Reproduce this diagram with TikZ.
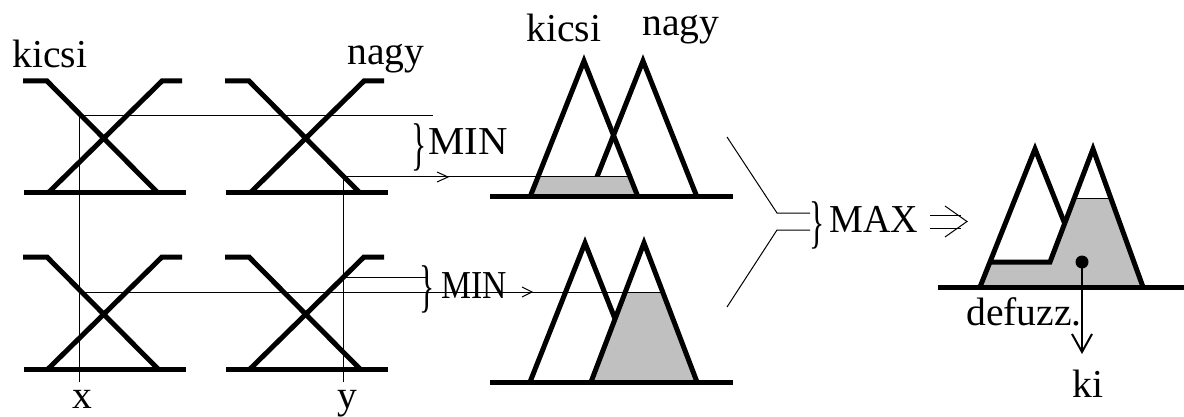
\documentclass[tikz,border=0pt]{standalone}
\usepackage{fontspec}
\setmainfont{Liberation Serif}
\usetikzlibrary{arrows.meta}
\begin{document}
\begin{tikzpicture}[x=0.5pt,y=-0.5pt,
  heavy/.style={line width=2.5pt,line join=miter},
  hair/.style={line width=0.5pt},
  shade/.style={fill={rgb,255:red,192;green,192;blue,192}},
  lbl/.style={inner sep=0pt,font=\fontsize{19.8}{22}\selectfont},
  brc/.style={inner sep=0pt,anchor=center,font=\fontsize{19.8}{22}\selectfont},
  xblock/.pic={
    \draw[heavy] (0,0) -- (24,0) -- (135,112);
    \draw[heavy] (25,112) -- (139,0) -- (159,0);
    \draw[heavy] (1,112) -- (163,112);
  }]
\useasboundingbox (0,0) rectangle (1184,417);

% membership X blocks
\pic at (23,81) {xblock};
\pic at (225,81) {xblock};
\pic at (23,257) {xblock};
\pic at (225,257) {xblock};

% input guides
\coordinate (xtop) at (79,116);
\coordinate (xbot) at (79,382);
\coordinate (ytop) at (343,177);
\coordinate (ybot) at (343,382);
\draw[hair] (xtop) -- (xbot);
\draw[hair] (ytop) -- (ybot);
\coordinate (m1end) at (433,116);
\draw[hair] (xtop) -- (m1end);
\coordinate (y2) at (343,277);
\coordinate (y2end) at (427,277);
\draw[hair] (y2) -- (y2end);

% middle top rule output
\draw[heavy] (589,197) -- (643,61) -- (697,197);
\fill[shade] (538,177) -- (630,177) -- (638,197) -- (530,197) -- cycle;
\draw[heavy] (530,197) -- (584,61) -- (638,197);
\draw[heavy] (490,197) -- (733,197);
\coordinate (c1) at (630,177);
\draw[hair] (ytop) -- (c1);
\draw[hair] (437,172) -- (448,177) -- (437,182);

% middle bottom rule output
\draw[heavy] (530,382) -- (585,243) -- (640,382);
\fill[shade] (625,292) -- (663,292) -- (697,382) -- (591,382) -- cycle;
\draw[heavy] (591,382) -- (644,243) -- (697,382);
\draw[heavy] (490,382) -- (733,382);
\coordinate (xm) at (79,292);
\coordinate (c2) at (663,292);
\draw[hair] (xm) -- (c2);
\draw[hair] (522,287) -- (532,292) -- (522,297);

% MAX combiner
\draw[hair] (727,137) -- (777,213) -- (810,213);
\draw[hair] (727,307) -- (777,230) -- (810,230);
\draw[hair] (930,215) -- (961,215);
\draw[hair] (930,228) -- (961,228);
\draw[hair] (945,206) -- (967,221.5) -- (945,237);

% result
\fill[shade] (980,287) -- (990,262) -- (1050,262) -- (1074,199) -- (1111,199) -- (1143,287) -- cycle;
\draw[heavy] (1064.5,223) -- (1035,149) -- (980,287);
\draw[heavy] (990,262) -- (1050,262) -- (1093,149) -- (1143,287);
\draw[heavy] (938,287) -- (1184,287);
\draw[hair] (1074,199) -- (1111,199);
\node[circle,fill,inner sep=0pt,minimum size=6.5pt] (cg) at (1082,262) {};
\coordinate (kiend) at (1082,354);
\draw[line width=1pt,-{Straight Barb[length=9pt,width=10pt,line width=1pt]}] (cg.center) -- (kiend);

% labels
\node[lbl,anchor=base west] (k1) at (12,68) {kicsi};
\node[lbl,anchor=base west] (n1) at (347,65) {nagy};
\node[lbl,anchor=base west] (k2) at (526,42) {kicsi};
\node[lbl,anchor=base west] (n2) at (642,36) {nagy};
\node[brc] (b1) at (419,147) {\scalebox{0.8}[1.45]{\}}};
\node[lbl,anchor=base west] (min1) at (428,155) {\scalebox{1.03}[1]{MIN}};
\node[brc] (b2) at (427,289) {\scalebox{0.8}[1.45]{\}}};
\node[lbl,anchor=base west] (min2) at (441,298) {\scalebox{0.85}[1]{MIN}};
\node[brc] (b3) at (817,225) {\scalebox{0.8}[1.45]{\}}};
\node[lbl,anchor=base west] (max) at (829,233) {\scalebox{0.96}[1]{MAX}};
\node[lbl,anchor=base west] (df) at (966,325) {defuzz.};
\node[lbl,anchor=base west] (ki) at (1072,397) {ki};
\node[lbl,anchor=base] (xl) at (82,408) {x};
\node[lbl,anchor=base] (yl) at (347,408) {y};
\end{tikzpicture}
\end{document}
